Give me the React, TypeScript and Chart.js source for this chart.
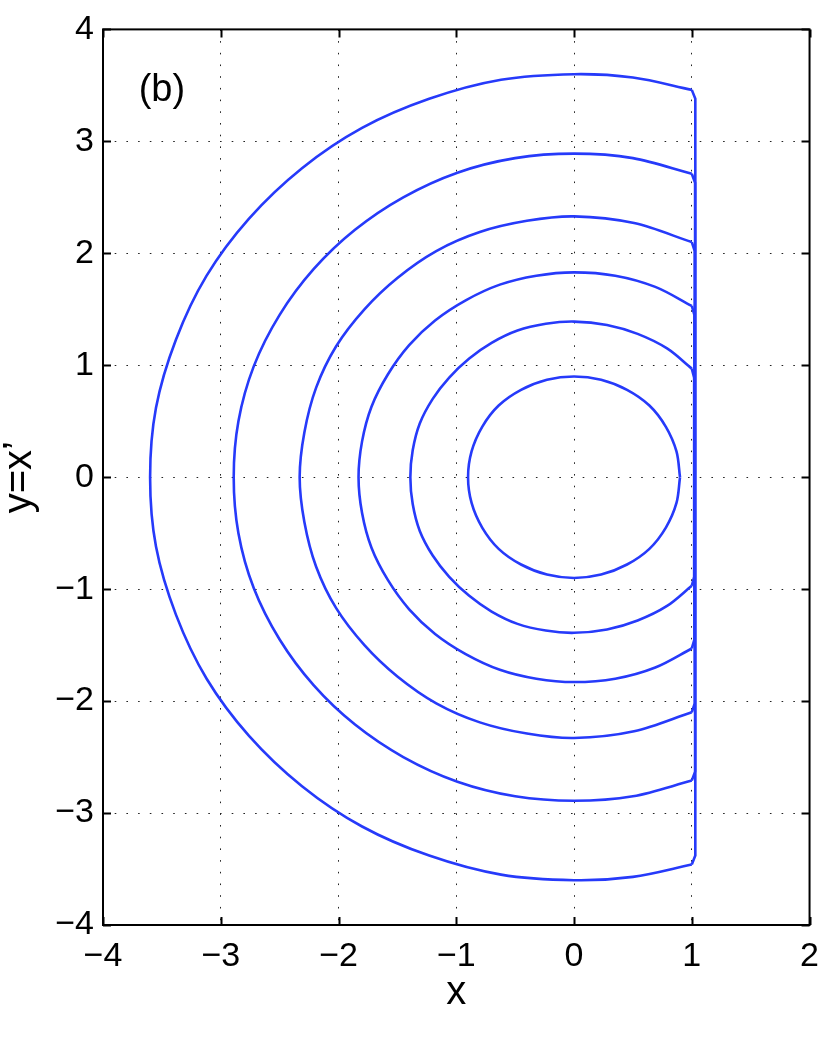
import { useEffect, useRef } from 'react';
import { Chart, registerables } from 'chart.js';

Chart.register(...registerables);

// Axis limits / labels
const xRange = [-4, 2];
const yRange = [-4, 4];
const xTitle = 'x';
const yTitle = 'y=x’';
const panelLabel = '(b)';

// Orbit arcs, [x, y]
const arcR360 = [[1.00, 3.46], [0.50, 3.57], [0, 3.60], [-0.62, 3.55], [-1.23, 3.38], [-1.80, 3.12], [-2.31, 2.76], [-2.76, 2.31], [-3.12, 1.80], [-3.38, 1.23], [-3.55, 0.62], [-3.60, 0], [-3.55, -0.62], [-3.38, -1.23], [-3.12, -1.80], [-2.76, -2.31], [-2.31, -2.76], [-1.80, -3.12], [-1.23, -3.38], [-0.62, -3.55], [0, -3.60], [0.50, -3.57], [1.00, -3.46]];
const slideR360 = [[1.00, -3.46], [1.03, -3.38], [1.03, 3.38], [1.00, 3.46]];

const arcR289 = [[1.00, 2.71], [0.50, 2.85], [0, 2.89], [-0.50, 2.85], [-0.99, 2.72], [-1.45, 2.50], [-1.86, 2.21], [-2.21, 1.86], [-2.50, 1.45], [-2.72, 0.99], [-2.85, 0.50], [-2.89, 0], [-2.85, -0.50], [-2.72, -0.99], [-2.50, -1.45], [-2.21, -1.86], [-1.86, -2.21], [-1.45, -2.50], [-0.99, -2.72], [-0.50, -2.85], [0, -2.89], [0.50, -2.85], [1.00, -2.71]];
const slideR289 = [[1.00, -2.71], [1.028, -2.63], [1.028, 2.63], [1.00, 2.71]];

const arcR233 = [[1.00, 2.10], [0.51, 2.27], [0, 2.33], [-0.40, 2.29], [-0.80, 2.19], [-1.17, 2.02], [-1.50, 1.78], [-1.78, 1.50], [-2.02, 1.17], [-2.19, 0.80], [-2.29, 0.40], [-2.33, 0], [-2.29, -0.40], [-2.19, -0.80], [-2.02, -1.17], [-1.78, -1.50], [-1.50, -1.78], [-1.17, -2.02], [-0.80, -2.19], [-0.40, -2.29], [0, -2.33], [0.51, -2.27], [1.00, -2.10]];
const slideR233 = [[1.00, -2.10], [1.025, -2.02], [1.025, 2.02], [1.00, 2.10]];

const arcR183 = [[1.00, 1.53], [0.69, 1.70], [0.35, 1.80], [0, 1.83], [-0.32, 1.80], [-0.63, 1.72], [-0.92, 1.58], [-1.18, 1.40], [-1.40, 1.18], [-1.58, 0.92], [-1.72, 0.63], [-1.80, 0.32], [-1.83, 0], [-1.80, -0.32], [-1.72, -0.63], [-1.58, -0.92], [-1.40, -1.18], [-1.18, -1.40], [-0.92, -1.58], [-0.63, -1.72], [-0.32, -1.80], [0, -1.83], [0.35, -1.80], [0.69, -1.70], [1.00, -1.53]];
const slideR183 = [[1.00, -1.53], [1.022, -1.45], [1.022, 1.45], [1.00, 1.53]];

const arcR139 = [[1.00, 0.97], [0.79, 1.15], [0.54, 1.28], [0.28, 1.36], [0, 1.39], [-0.24, 1.37], [-0.48, 1.31], [-0.70, 1.20], [-0.89, 1.06], [-1.06, 0.89], [-1.20, 0.70], [-1.31, 0.48], [-1.37, 0.24], [-1.39, 0], [-1.37, -0.24], [-1.31, -0.48], [-1.20, -0.70], [-1.06, -0.89], [-0.89, -1.06], [-0.70, -1.20], [-0.48, -1.31], [-0.24, -1.37], [0, -1.39], [0.28, -1.36], [0.54, -1.28], [0.79, -1.15], [1.00, -0.97]];
const slideR139 = [[1.00, -0.97], [1.02, -0.89], [1.02, 0.89], [1.00, 0.97]];

const circleR090 = [[0.90, 0], [0.87, 0.23], [0.78, 0.45], [0.64, 0.64], [0.45, 0.78], [0.23, 0.87], [0, 0.90], [-0.23, 0.87], [-0.45, 0.78], [-0.64, 0.64], [-0.78, 0.45], [-0.87, 0.23], [-0.90, 0], [-0.87, -0.23], [-0.78, -0.45], [-0.64, -0.64], [-0.45, -0.78], [-0.23, -0.87], [0, -0.90], [0.23, -0.87], [0.45, -0.78], [0.64, -0.64], [0.78, -0.45], [0.87, -0.23], [0.90, 0]];

const smoothCurves = [arcR360, arcR289, arcR233, arcR183, arcR139, circleR090];
const straightCurves = [slideR360, slideR289, slideR233, slideR183, slideR139];

const FONT = '"Liberation Sans", Arial, Helvetica, sans-serif';
const BLUE = 'rgb(38,58,250)';

const fmt = (v: number) => (v < 0 ? '\u2212' + Math.abs(v) : String(v));

const framePlugin = {
  id: 'frame',
  afterDraw(chart: any) {
    const { ctx, chartArea: a, scales } = chart;
    const xs = scales.x;
    const ys = scales.y;
    ctx.save();
    ctx.strokeStyle = '#000';
    ctx.lineWidth = 2;
    ctx.lineCap = 'butt';
    const tl = 8;
    ctx.beginPath();
    xs.ticks.forEach((t: any) => {
      const px = Math.round(xs.getPixelForValue(t.value)) + 0.5;
      ctx.moveTo(px, a.bottom);
      ctx.lineTo(px, a.bottom - tl);
      ctx.moveTo(px, a.top);
      ctx.lineTo(px, a.top + tl);
    });
    ys.ticks.forEach((t: any) => {
      const py = Math.round(ys.getPixelForValue(t.value)) + 0.5;
      ctx.moveTo(a.left, py);
      ctx.lineTo(a.left + tl, py);
      ctx.moveTo(a.right, py);
      ctx.lineTo(a.right - tl, py);
    });
    ctx.stroke();
    ctx.strokeRect(a.left, a.top, a.right - a.left, a.bottom - a.top);
    ctx.fillStyle = '#000';
    ctx.font = `38px ${FONT}`;
    ctx.textAlign = 'center';
    ctx.textBaseline = 'middle';
    ctx.fillText(panelLabel, xs.getPixelForValue(-3.5), ys.getPixelForValue(3.45));
    ctx.restore();
  },
};

export default function App() {
  const ref = useRef<HTMLCanvasElement | null>(null);
  useEffect(() => {
    document.body.style.margin = '0';
    const toPts = (arr: number[][]) => arr.map(([x, y]) => ({ x, y }));
    const datasets: any[] = [
      ...smoothCurves.map((c) => ({
        data: toPts(c),
        showLine: true,
        borderColor: BLUE,
        borderWidth: 2.6,
        pointRadius: 0,
        tension: 0.33,
        fill: false,
      })),
      ...straightCurves.map((c) => ({
        data: toPts(c),
        showLine: true,
        borderColor: BLUE,
        borderWidth: 2.6,
        pointRadius: 0,
        tension: 0,
        fill: false,
      })),
    ];
    const chart = new Chart(ref.current!, {
      type: 'scatter',
      data: { datasets },
      options: {
        animation: false,
        responsive: false,
        events: [],
        layout: { padding: { top: 22, right: 19, left: 0, bottom: 0 } },
        plugins: { legend: { display: false }, tooltip: { enabled: false } },
        scales: {
          x: {
            type: 'linear',
            min: xRange[0],
            max: xRange[1],
            afterFit: (s: any) => { s.height = 121; },
            ticks: { stepSize: 1, color: '#000', font: { family: FONT, size: 34 }, padding: 11, callback: (v: any) => fmt(Number(v)) },
            grid: { color: '#222', lineWidth: 1, drawTicks: false },
            border: { display: false, dash: [1.6, 10.1] },
            title: { display: true, text: xTitle, color: '#000', font: { family: FONT, size: 40, lineHeight: 1 }, padding: { top: 0, bottom: 33 } },
          },
          y: {
            type: 'linear',
            min: yRange[0],
            max: yRange[1],
            afterFit: (s: any) => { s.width = 103; },
            ticks: { stepSize: 1, color: '#000', font: { family: FONT, size: 34 }, padding: 9, callback: (v: any) => fmt(Number(v)) },
            grid: { color: '#222', lineWidth: 1, drawTicks: false },
            border: { display: false, dash: [1.6, 10.1] },
            title: { display: true, text: yTitle, color: '#000', font: { family: FONT, size: 40, lineHeight: 1 }, padding: { top: 0, bottom: 0 } },
          },
        },
      },
      plugins: [framePlugin],
    });
    return () => chart.destroy();
  }, []);
  return (
    <div style={{ width: 830, height: 1046 }}>
      <canvas ref={ref} width={830} height={1046} />
    </div>
  );
}
